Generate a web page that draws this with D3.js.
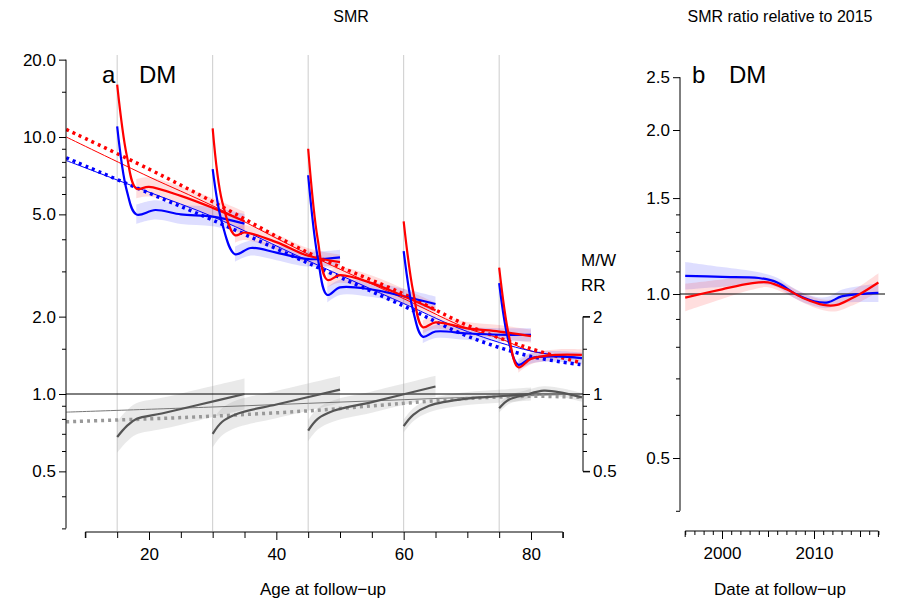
<!DOCTYPE html>
<html>
<head>
<meta charset="utf-8">
<script src="https://cdn.jsdelivr.net/npm/d3@7"></script>
<style>
  body { margin: 0; background: #fff; }
  text { font-family: "Liberation Sans", Arial, sans-serif; }
</style>
</head>
<body>
<svg id="chart"></svg>
<script>
// ---- data ----
// long-term trends, panel a: [age, SMR]
const redThin = [[7,10.0],[20,7.0],[30,5.4],[45,3.5],[60,2.35],[70,1.8],[75,1.65],[80,1.47],[88,1.38]];
const redDot  = [[7,10.7],[20,7.5],[30,5.6],[45,3.55],[60,2.45],[70,1.85],[80,1.5],[88,1.32]];
const blueThin = [[7,8.1],[20,6.1],[30,4.9],[45,3.3],[60,2.25],[70,1.75],[80,1.47],[88,1.38]];
const blueDot  = [[7,8.3],[20,6.05],[30,4.75],[45,3.23],[60,2.2],[70,1.68],[80,1.4],[88,1.3]];

// cohort segments (entry age 15, 30, 45, 60, 75)
const redCohorts = [
  [[15,16],[16.5,8.5],[18,6.3],[20,6.4],[25,5.9],[30,5.3],[35,4.7]],
  [[30,10.8],[31.5,5.6],[33.5,4.15],[35,4.25],[40,3.9],[45,3.45],[50,3.26]],
  [[45,9.0],[46.5,4.0],[48,2.78],[50,2.9],[55,2.7],[60,2.4],[65,2.12]],
  [[60,4.7],[61.5,2.5],[63,1.82],[65,1.9],[70,1.8],[75,1.75],[80,1.68]],
  [[75,3.1],[76.5,1.7],[78,1.27],[80,1.37],[84,1.42],[88,1.42]]
];
const blueCohorts = [
  [[15,11],[16.5,6.2],[18,5.0],[21,5.2],[25,5.0],[30,4.9],[35,4.6]],
  [[30,7.5],[31.5,4.6],[33.5,3.5],[36,3.7],[40,3.55],[45,3.35],[50,3.4]],
  [[45,7.1],[46.5,3.4],[48,2.43],[50,2.6],[55,2.55],[60,2.4],[65,2.24]],
  [[60,3.6],[61.5,2.1],[63,1.67],[65,1.75],[70,1.72],[75,1.7],[80,1.7]],
  [[75,2.7],[76.5,1.6],[78,1.3],[80,1.38],[84,1.4],[88,1.38]]
];
// band half-width (multiplicative) per cohort
const bandWidth = [1.09, 1.07, 1.07, 1.06, 1.05];

// M/W rate ratio
const rrThin = [[7,0.85],[30,0.89],[50,0.93],[70,0.97],[88,1.0]];
const rrDot  = [[7,0.78],[20,0.8],[30,0.82],[45,0.86],[60,0.92],[70,0.96],[80,0.98],[88,0.97]];
const rrCohorts = [
  [[15,0.68],[16.5,0.75],[18,0.8],[22,0.84],[28,0.91],[35,1.0]],
  [[30,0.7],[31.5,0.78],[34,0.84],[40,0.91],[50,1.04]],
  [[45,0.72],[46.5,0.8],[49,0.86],[55,0.93],[65,1.07]],
  [[60,0.75],[61.5,0.83],[64,0.9],[70,0.96],[75,0.98],[80,1.0]],
  [[75,0.88],[76.5,0.95],[79,0.99],[82,1.03],[85,1.01],[88,0.97]]
];
const rrBand = [1.15, 1.13, 1.1, 1.06, 1.04];

// panel b: [year, SMR ratio]
const blueRatio = [[1996,1.08],[2000,1.075],[2004,1.07],[2006,1.05],[2008,1.0],[2010,0.97],[2011.5,0.965],[2013,0.99],[2015,1.0],[2017,1.005]];
const redRatio  = [[1996,0.985],[2000,1.02],[2003,1.045],[2005,1.05],[2007,1.02],[2009,0.98],[2011,0.955],[2012.5,0.955],[2014,0.98],[2015,1.0],[2017,1.05]];
const ratioBand = [[1996,1.06],[2005,1.02],[2010,1.02],[2017,1.04]];

const leftTicks = [0.5, 1, 2, 5, 10, 20];
const leftMinor = [0.3, 0.4, 0.6, 0.7, 0.8, 0.9, 1.5, 3, 4, 6, 7, 8, 9, 15];
const rrTicks = [0.5, 1, 2];
const rrMinor = [0.6, 0.7, 0.8, 0.9, 1.5];
const rightTicks = [0.5, 1.0, 1.5, 2.0, 2.5];
const rightMinor = [0.4, 0.6, 0.7, 0.8, 0.9, 1.1, 1.2, 1.3, 1.4];
const ageTicks = [20, 40, 60, 80];
const cohortAges = [15, 30, 45, 60, 75];

// ---- layout ----
const W = 898, H = 600;
const svg = d3.select('#chart').attr('width', W).attr('height', H);

const x = d3.scaleLinear().domain([20, 80]).range([149, 531]);
const y = d3.scaleLog().domain([1, 10]).range([394, 137]);
const xb = d3.scaleLinear().domain([2000, 2010]).range([722, 814]);
const yb = d3.scaleLog().domain([0.5, 1]).range([458, 294]);

const RED = '#ff0000', BLUE = '#0000ff', GREY = '#555555';
const line = (sx, sy) => d3.line().x(d => sx(d[0])).y(d => sy(d[1])).curve(d3.curveCatmullRom);
const area = (sx, sy, f) => d3.area().x(d => sx(d[0])).y0(d => sy(d[1] / f)).y1(d => sy(d[1] * f)).curve(d3.curveCatmullRom);

// panel a clip
svg.append('clipPath').attr('id', 'clipA').append('rect').attr('x', 66).attr('y', 55).attr('width', 517).attr('height', 476);

const gA = svg.append('g').attr('clip-path', 'url(#clipA)');

// grey verticals
gA.selectAll('line.v').data(cohortAges).enter().append('line')
  .attr('x1', d => x(d)).attr('x2', d => x(d)).attr('y1', 55).attr('y2', 531)
  .attr('stroke', '#cccccc').attr('stroke-width', 1);

// bands
cohortAges.forEach((a, i) => {
  gA.append('path').attr('d', area(x, y, bandWidth[i])(redCohorts[i].slice(2))).attr('fill', RED).attr('opacity', 0.13);
  gA.append('path').attr('d', area(x, y, bandWidth[i])(blueCohorts[i].slice(2))).attr('fill', BLUE).attr('opacity', 0.13);
  gA.append('path').attr('d', area(x, y, rrBand[i])(rrCohorts[i])).attr('fill', '#999').attr('opacity', 0.22);
});

// ref line RR = 1
gA.append('line').attr('x1', 66).attr('x2', 583).attr('y1', y(1)).attr('y2', y(1)).attr('stroke', '#000').attr('stroke-width', 1);

// trend lines
gA.append('path').attr('d', line(x, y)(rrThin)).attr('fill', 'none').attr('stroke', '#777').attr('stroke-width', 1);
gA.append('path').attr('d', line(x, y)(rrDot)).attr('fill', 'none').attr('stroke', '#999').attr('stroke-width', 3.5).attr('stroke-dasharray', '3,4');
gA.append('path').attr('d', line(x, y)(redThin)).attr('fill', 'none').attr('stroke', RED).attr('stroke-width', 1);
gA.append('path').attr('d', line(x, y)(blueThin)).attr('fill', 'none').attr('stroke', BLUE).attr('stroke-width', 1);
gA.append('path').attr('d', line(x, y)(redDot)).attr('fill', 'none').attr('stroke', RED).attr('stroke-width', 3.5).attr('stroke-dasharray', '3,4');
gA.append('path').attr('d', line(x, y)(blueDot)).attr('fill', 'none').attr('stroke', BLUE).attr('stroke-width', 3.5).attr('stroke-dasharray', '3,4');

// cohort curves
cohortAges.forEach((a, i) => {
  gA.append('path').attr('d', line(x, y)(rrCohorts[i])).attr('fill', 'none').attr('stroke', GREY).attr('stroke-width', 2.2);
  gA.append('path').attr('d', line(x, y)(blueCohorts[i])).attr('fill', 'none').attr('stroke', BLUE).attr('stroke-width', 2.2);
  gA.append('path').attr('d', line(x, y)(redCohorts[i])).attr('fill', 'none').attr('stroke', RED).attr('stroke-width', 2.2);
});

// axes panel a
const fmt1 = d3.format('.1f');
const axL = svg.append('g').attr('transform', 'translate(66,0)');
axL.append('line').attr('x1', 0).attr('x2', 0).attr('y1', y(20)).attr('y2', y(0.3)).attr('stroke', '#000');
axL.call(d3.axisLeft(y).tickValues(leftTicks).tickFormat(fmt1).tickSize(7))
  .call(g => g.select('.domain').remove());
axL.append('g').call(d3.axisLeft(y).tickValues(leftMinor).tickFormat('').tickSize(4))
  .call(g => g.select('.domain').remove());

const axR = svg.append('g').attr('transform', 'translate(583,0)');
axR.call(d3.axisRight(y).tickValues(rrTicks).tickFormat(d3.format('')).tickSize(7))
  .call(g => g.select('.domain').attr('d', `M7,${y(2)}H0V${y(0.5)}H7`));
axR.append('g').call(d3.axisRight(y).tickValues(rrMinor).tickFormat('').tickSize(4))
  .call(g => g.select('.domain').remove());

const axB = svg.append('g').attr('transform', 'translate(0,532)');
axB.call(d3.axisBottom(x).tickValues(ageTicks).tickSize(8).tickPadding(8))
  .call(g => g.select('.domain').attr('d', `M${x(10)},6V0H${x(85)}V6`));
axB.append('g').call(d3.axisBottom(x).tickValues(d3.range(10, 86, 5).filter(v => v % 20)).tickFormat('').tickSize(6))
  .call(g => g.select('.domain').remove());

// panel b
const gB = svg.append('g');
const bandFor = (s) => d3.area().x(d => xb(d[0]))
  .y0(d => yb(d[1] / interp(d[0]))).y1(d => yb(d[1] * interp(d[0]))).curve(d3.curveCatmullRom)(s);
function interp(t) {
  for (let i = 1; i < ratioBand.length; i++) {
    if (t <= ratioBand[i][0]) {
      const a = ratioBand[i - 1], b = ratioBand[i];
      return a[1] + (b[1] - a[1]) * (t - a[0]) / (b[0] - a[0]);
    }
  }
  return ratioBand[ratioBand.length - 1][1];
}
gB.append('path').attr('d', bandFor(blueRatio)).attr('fill', BLUE).attr('opacity', 0.13);
gB.append('path').attr('d', bandFor(redRatio)).attr('fill', RED).attr('opacity', 0.13);
gB.append('line').attr('x1', 680).attr('x2', 885).attr('y1', yb(1)).attr('y2', yb(1)).attr('stroke', '#000');
gB.append('path').attr('d', line(xb, yb)(blueRatio)).attr('fill', 'none').attr('stroke', BLUE).attr('stroke-width', 2.2);
gB.append('path').attr('d', line(xb, yb)(redRatio)).attr('fill', 'none').attr('stroke', RED).attr('stroke-width', 2.2);

const axLb = svg.append('g').attr('transform', 'translate(680,0)');
axLb.append('line').attr('y1', yb(2.5)).attr('y2', yb(0.4)).attr('stroke', '#000');
axLb.call(d3.axisLeft(yb).tickValues(rightTicks).tickFormat(fmt1).tickSize(7))
  .call(g => g.select('.domain').remove());
axLb.append('g').call(d3.axisLeft(yb).tickValues(rightMinor).tickFormat('').tickSize(4))
  .call(g => g.select('.domain').remove());

const axBb = svg.append('g').attr('transform', 'translate(0,531)');
axBb.call(d3.axisBottom(xb).tickValues([2000, 2010]).tickFormat(d3.format('d')).tickSize(8).tickPadding(8))
  .call(g => g.select('.domain').attr('d', `M${xb(1996)},6V0H${xb(2017)}V6`));
axBb.append('g').call(d3.axisBottom(xb).tickValues(d3.range(1996, 2018).filter(v => v % 5)).tickFormat('').tickSize(4))
  .call(g => g.select('.domain').remove());
axBb.append('g').call(d3.axisBottom(xb).tickValues([2005, 2015]).tickFormat('').tickSize(6))
  .call(g => g.select('.domain').remove());

svg.selectAll('.tick text').style('font-size', '17px').style('font-family', '"Liberation Sans", Arial, sans-serif').attr('fill', '#000');
svg.selectAll('.tick line, .domain').attr('stroke', '#000');

// labels
const txt = (tx, ty, s, size, anchor) => svg.append('text').attr('x', tx).attr('y', ty)
  .style('font-size', size + 'px').attr('text-anchor', anchor || 'middle').text(s);
txt(351, 22, 'SMR', 16);
txt(780, 22, 'SMR ratio relative to 2015', 16);
txt(323, 595, 'Age at follow\u2212up', 17);
txt(780, 595, 'Date at follow\u2212up', 17);
txt(102, 83, 'a', 24, 'start');
txt(139, 83, 'DM', 24, 'start');
txt(692, 83, 'b', 24, 'start');
txt(729, 83, 'DM', 24, 'start');
txt(581, 266, 'M/W', 17, 'start');
txt(581, 291, 'RR', 17, 'start');
</script>
</body>
</html>
